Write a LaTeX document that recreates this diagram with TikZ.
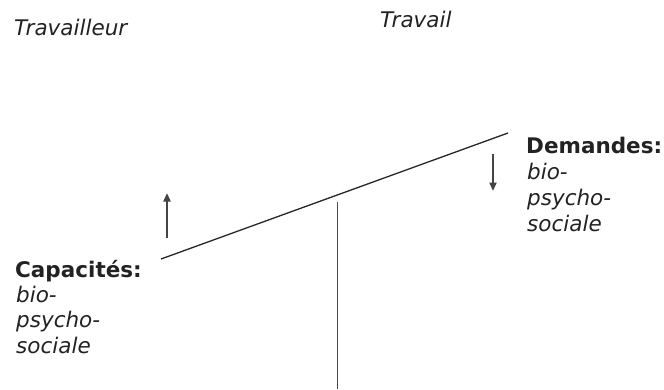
\documentclass[tikz,border=0pt]{standalone}
\usepackage{fontspec}
\setmainfont{DejaVu Sans}
\usetikzlibrary{arrows.meta}
\definecolor{ink}{HTML}{222222}
\definecolor{arrowgray}{HTML}{444444}
\tikzset{
  lbl/.style={inner sep=0pt, anchor=base west, text=ink, font=\fontsize{21.5}{26}\selectfont},
  ital/.style={lbl, font=\fontsize{21.5}{26}\selectfont\itshape},
  bld/.style={lbl, font=\fontsize{21.5}{26}\selectfont\bfseries},
  beam/.style={draw=black!85, line width=1.3pt},
  post/.style={draw=black!70, line width=0.9pt},
  move/.style={draw=arrowgray, line width=2pt, -{Triangle[length=8.5pt,width=7pt]}}
}
\begin{document}
\begin{tikzpicture}[x=1pt,y=-1pt]
\useasboundingbox (0,0) rectangle (664,389);
% headings
\node[ital] (worker) at (14,35) {Travailleur};
\node[ital] (work) at (380,27) {Travail};
% beam and fulcrum
\coordinate (beamL) at (161,259);
\coordinate (beamR) at (508,133);
\draw[beam] (beamL) -- (beamR);
\coordinate (fulcT) at (337,202);
\coordinate (fulcB) at (337,389);
\draw[post] (fulcT) -- (fulcB);
% arrows
\coordinate (upS) at (167,238);
\coordinate (upE) at (167,193);
\draw[move] (upS) -- (upE);
\coordinate (dnS) at (493,154);
\coordinate (dnE) at (493,191);
\draw[move] (dnS) -- (dnE);
% Demandes block
\node[bld] (dem) at (526,153) {Demandes:};
\node[ital] (dem1) at (527,179) {bio-};
\node[ital] (dem2) at (527,205) {psycho-};
\node[ital] (dem3) at (527,231) {sociale};
% Capacites block
\node[bld] (cap) at (15,277) {Capacités:};
\node[ital] (cap1) at (16,302) {bio-};
\node[ital] (cap2) at (16,327) {psycho-};
\node[ital] (cap3) at (16,353) {sociale};
\end{tikzpicture}
\end{document}
